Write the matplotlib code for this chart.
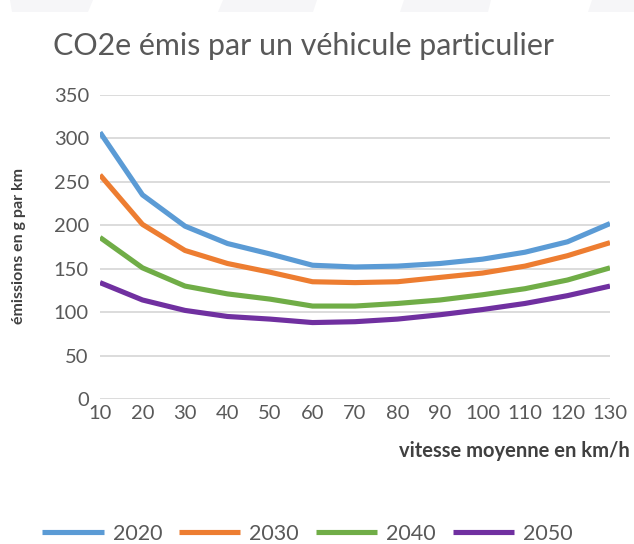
import matplotlib
matplotlib.use("Agg")
import matplotlib.pyplot as plt
from matplotlib.patches import Polygon

plt.rcParams['font.family'] = ['Lato', 'DejaVu Sans']

speeds = [10, 20, 30, 40, 50, 60, 70, 80, 90, 100, 110, 120, 130]
series_names = ["2020", "2030", "2040", "2050"]
v2020 = [307, 235, 199, 179, 167, 154, 152, 153, 156, 161, 169, 181, 202]
v2030 = [258, 201, 171, 156, 146, 135, 134, 135, 140, 145, 153, 165, 180]
v2040 = [186, 151, 130, 121, 115, 107, 107, 110, 114, 120, 127, 137, 151]
v2050 = [134, 114, 102, 95, 92, 88, 89, 92, 97, 103, 110, 119, 130]
colors = ["#5B9BD5", "#ED7D31", "#70AD47", "#7030A0"]
yticks = [0, 50, 100, 150, 200, 250, 300, 350]

W, H = 634, 544
fig = plt.figure(figsize=(W / 100, H / 100), dpi=100)

# faint decorative shapes at the top
shapes = [[(10, 0), (93, 0), (88, 12), (12, 12)],
          [(223, 0), (317, 0), (313, 12), (218, 12)],
          [(404, 0), (491, 0), (488, 12), (400, 12)],
          [(592, 0), (634, 0), (634, 12), (588, 12)]]
for s in shapes:
    pts = [(x / W, 1 - y / H) for x, y in s]
    fig.patches.append(Polygon(pts, closed=True, transform=fig.transFigure,
                               facecolor="#f6f6f8", edgecolor="none", zorder=0))

left, right = 100 / W, 610 / W
bottom, top = 1 - 399 / H, 1 - 95 / H
ax = fig.add_axes([left, bottom, right - left, top - bottom])

for name, vals, c in zip(series_names, [v2020, v2030, v2040, v2050], colors):
    ax.plot(speeds, vals, color=c, lw=3.7, label=name, solid_joinstyle='round',
            solid_capstyle='butt', zorder=3)

ax.set_xlim(10, 130)
ax.set_ylim(0, 350)
ax.set_yticks(yticks)
ax.set_xticks(speeds)
ax.grid(axis='y', color="#d9d9d9", lw=1.3, zorder=1)
for sp in ax.spines.values():
    sp.set_visible(False)
ax.tick_params(axis='both', length=0, labelsize=14.5, colors="#595959")
ax.tick_params(axis='y', pad=8)
ax.tick_params(axis='x', pad=4)

fig.text(53 / W, 1 - 46 / H, "CO2e émis par un véhicule particulier",
         fontsize=21.9, color="#595959", va='center', ha='left')
fig.text(19 / W, 1 - 246 / H, "émissions en g par km", rotation=90,
         fontsize=11.5, fontweight='bold', color="#404040", ha='center', va='center')
fig.text(630 / W, 1 - 451 / H, "vitesse moyenne en km/h",
         fontsize=14.5, fontweight='bold', color="#404040", ha='right', va='center')

leg = fig.legend(loc='center', bbox_to_anchor=(307.5 / W, 1 - 534 / H), ncol=4,
                 frameon=False, fontsize=15.5, handlelength=2.84, columnspacing=0.79,
                 handletextpad=0.42, borderpad=0, borderaxespad=0)
for t in leg.get_texts():
    t.set_color("#595959")

fig.savefig("out.png", dpi=100)
